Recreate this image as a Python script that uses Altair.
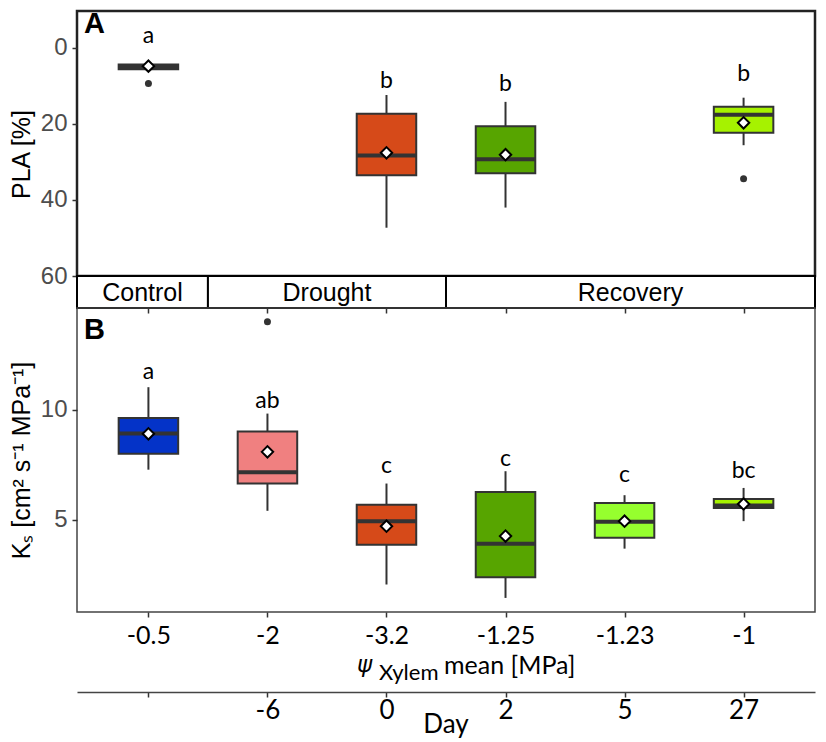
import json
import altair as alt
import pandas as pd

# ---------------- data ----------------
psi_labels = ["-0.5", "-2", "-3.2", "-1.25", "-1.23", "-1"]
day_labels = ["", "-6", "0", "2", "5", "27"]
box_colors = ["#0433C8", "#F08080", "#D64A19", "#57A500", "#96FF2E", "#A6F200"]
positions = [1, 2, 3, 4, 5, 6]

phase_names = ["Control", "Drought", "Recovery"]
phase_start = [0.4, 1.5, 3.5]
phase_end = [1.5, 3.5, 6.6]

# Panel A: PLA [%] (groups present: -0.5, -3.2, -1.25, -1)
pla_index = [0, 2, 3, 5]
pla_min = [4.4, 12.4, 14.2, 13.1]
pla_q1 = [4.4, 17.3, 20.6, 15.5]
pla_med = [5.0, 28.3, 29.3, 17.6]
pla_q3 = [5.6, 33.5, 33.0, 22.3]
pla_max = [5.6, 47.3, 42.0, 25.6]
pla_mean = [4.8, 27.6, 28.1, 19.7]
pla_letters = ["a", "b", "b", "b"]
pla_letter_y = [-3.1, 8.8, 9.6, 7.0]
pla_out_pos = [1, 6]
pla_out_val = [9.4, 34.4]

# Panel B: Ks
ks_min = [7.27, 5.4, 2.05, 1.44, 3.68, 4.93]
ks_q1 = [7.99, 6.64, 3.86, 2.38, 4.17, 5.53]
ks_med = [8.91, 7.15, 4.93, 3.9, 4.9, 5.64]
ks_q3 = [9.62, 9.0, 5.67, 6.25, 5.76, 5.94]
ks_max = [11.02, 9.82, 6.64, 7.2, 6.11, 6.44]
ks_mean = [8.9, 8.08, 4.7, 4.25, 4.93, 5.71]
ks_letters = ["a", "ab", "c", "c", "c", "bc"]
ks_letter_y = [11.7, 10.4, 7.43, 7.76, 7.05, 7.2]
ks_out_pos = [2]
ks_out_val = [13.99]

# ---------------- tables ----------------
HALF = 0.25
W = 738

df_a = pd.DataFrame({
    "pos": [positions[i] for i in pla_index],
    "col": [box_colors[i] for i in pla_index],
    "lo": pla_min, "q1": pla_q1, "med": pla_med, "q3": pla_q3, "hi": pla_max,
    "mean": pla_mean, "letter": pla_letters, "ly": pla_letter_y,
})
df_a["left"] = df_a["pos"] - HALF
df_a["right"] = df_a["pos"] + HALF
out_a = pd.DataFrame({"pos": pla_out_pos, "val": pla_out_val})

df_b = pd.DataFrame({
    "pos": positions, "col": box_colors,
    "lo": ks_min, "q1": ks_q1, "med": ks_med, "q3": ks_q3, "hi": ks_max,
    "mean": ks_mean, "letter": ks_letters, "ly": ks_letter_y,
})
df_b["left"] = df_b["pos"] - HALF
df_b["right"] = df_b["pos"] + HALF
out_b = pd.DataFrame({"pos": ks_out_pos, "val": ks_out_val})

df_phase = pd.DataFrame({"name": phase_names, "start": phase_start, "end": phase_end})
df_phase["mid"] = (df_phase["start"] + df_phase["end"]) / 2
df_pos = pd.DataFrame({"pos": positions})

XS = alt.Scale(domain=[0.4, 6.6], nice=False, zero=False)
DARK = "#333333"
SANS = "Liberation Sans"
CAL = "Lato"


def boxplot(df, out, yscale, yaxis, xaxis):
    base = alt.Chart(df)
    X = lambda f: alt.X(f, type="quantitative", scale=XS, axis=xaxis, title=None)
    Y = lambda f: alt.Y(f, type="quantitative", scale=yscale, axis=yaxis)
    whisk = base.mark_rule(color=DARK, strokeWidth=2).encode(x=X("pos"), y=Y("lo"), y2="hi:Q")
    box = base.mark_rect(stroke=DARK, strokeWidth=2).encode(
        x=X("left"), x2="right:Q", y=Y("q1"), y2="q3:Q", fill=alt.Fill("col:N", scale=None))
    med = base.mark_rule(color=DARK, strokeWidth=4).encode(x=X("left"), x2="right:Q", y=Y("med"))
    outl = alt.Chart(out).mark_circle(color=DARK, size=49, opacity=1).encode(x=X("pos"), y=Y("val"))
    mean = base.mark_point(shape="diamond", filled=True, fill="white", stroke="black",
                           strokeWidth=2, size=130, opacity=1).encode(x=X("pos"), y=Y("mean"))
    letters = base.mark_text(font=CAL, fontSize=23, color="black").encode(
        x=X("pos"), y=Y("ly"), text="letter:N")
    return [whisk, box, med, outl, mean, letters]


yaxis_common = dict(grid=False, domain=False, tickColor=DARK, tickWidth=1.5, tickSize=5,
                    labelColor="#4D4D4D", labelFont=SANS, labelFontSize=24, labelPadding=5,
                    titleFont=SANS, titleFontSize=25, titleFontWeight="normal",
                    titleColor="black", titlePadding=6)

# ---- Panel A ----
ya_scale = alt.Scale(domain=[-9.7, 60], reverse=True, nice=False, zero=False)
ya_axis = alt.Axis(values=[0, 20, 40, 60], title="PLA [%]", titleY=143, **yaxis_common)
tag_a = alt.Chart(pd.DataFrame({"t": ["A"]})).mark_text(
    font=SANS, fontSize=29, fontWeight="bold", align="left", baseline="alphabetic", color="black"
).encode(x=alt.value(7), y=alt.value(22), text="t:N")
panel_a = alt.layer(*boxplot(df_a, out_a, ya_scale, ya_axis, None), tag_a).properties(
    width=W, height=265, view=alt.ViewBackground(stroke="#222222", strokeWidth=2.5))

# ---- Strip ----
strip_axis = alt.Axis(values=positions, labels=False, domain=False, ticks=True, tickSize=5,
                      tickColor=DARK, tickWidth=1.5, grid=False, title=None)
strip_rect = alt.Chart(df_phase).mark_rect(fill="white", stroke="black", strokeWidth=2).encode(
    x=alt.X("start:Q", scale=XS, axis=strip_axis, title=None), x2="end:Q",
    y=alt.value(0), y2=alt.value(32))
strip_text = alt.Chart(df_phase).mark_text(font=SANS, fontSize=25, color="black", baseline="middle").encode(
    x=alt.X("mid:Q", scale=XS, axis=strip_axis, title=None), y=alt.value(17), text="name:N")
strip = alt.layer(strip_rect, strip_text).properties(
    width=W, height=32, view=alt.ViewBackground(stroke="transparent"))

# ---- Panel B ----
yb_scale = alt.Scale(domain=[0.8, 14.62], nice=False, zero=False)
yb_axis = alt.Axis(values=[5, 10], title="Kₛ [cm² s⁻¹ MPa⁻¹]", **yaxis_common)
xb_axis = alt.Axis(values=positions, labelExpr=f"{json.dumps(psi_labels)}[datum.value - 1]",
                   grid=False, domain=False, ticks=True, tickSize=5, tickColor=DARK, tickWidth=1.5,
                   labelFont=CAL, labelFontSize=25, labelColor="black", labelPadding=6,
                   labelFlush=False, title=None)
tag_b = alt.Chart(pd.DataFrame({"t": ["B"]})).mark_text(
    font=SANS, fontSize=29, fontWeight="bold", align="left", baseline="alphabetic", color="black"
).encode(x=alt.value(7), y=alt.value(31), text="t:N")
panel_b = alt.layer(*boxplot(df_b, out_b, yb_scale, yb_axis, xb_axis), tag_b).properties(
    width=W, height=304, view=alt.ViewBackground(stroke="#444444", strokeWidth=1.5))

# ---- Day axis + psi title ----
day_axis = alt.Axis(values=positions, labelExpr=f"{json.dumps(day_labels)}[datum.value - 1]",
                    grid=False, domain=True, domainColor="#444444", domainWidth=1.5,
                    ticks=True, tickSize=5, tickColor=DARK, tickWidth=1.5,
                    labelFont=CAL, labelFontSize=26, labelColor="black", labelPadding=0,
                    labelFlush=False, title=None)
day_pts = alt.Chart(df_pos).mark_point(opacity=0).encode(
    x=alt.X("pos:Q", scale=XS, axis=day_axis, title=None), y=alt.value(0))


def note(text, x, y, size, font=CAL, style="normal", align="left"):
    return alt.Chart(pd.DataFrame({"t": [text]})).mark_text(
        font=font, fontSize=size, fontStyle=style, align=align, baseline="middle", color="black"
    ).encode(x=alt.value(x), y=alt.value(y), text="t:N")


day_chart = alt.layer(
    day_pts,
    note("ψ", 280, 53, 23, font="DejaVu Sans", style="italic"),
    note("Xylem", 302, 61, 22),
    note("mean [MPa]", 367, 54, 25),
    note("Day", W / 2, 113, 26, align="center"),
).properties(width=W, height=80, view=alt.ViewBackground(stroke="transparent"))

chart = alt.vconcat(panel_a, strip, panel_b, day_chart, spacing=0, bounds="flush").properties(
    padding=0).configure(background="white")

chart.save("out.html", embed_options={"renderer": "svg", "actions": False})
